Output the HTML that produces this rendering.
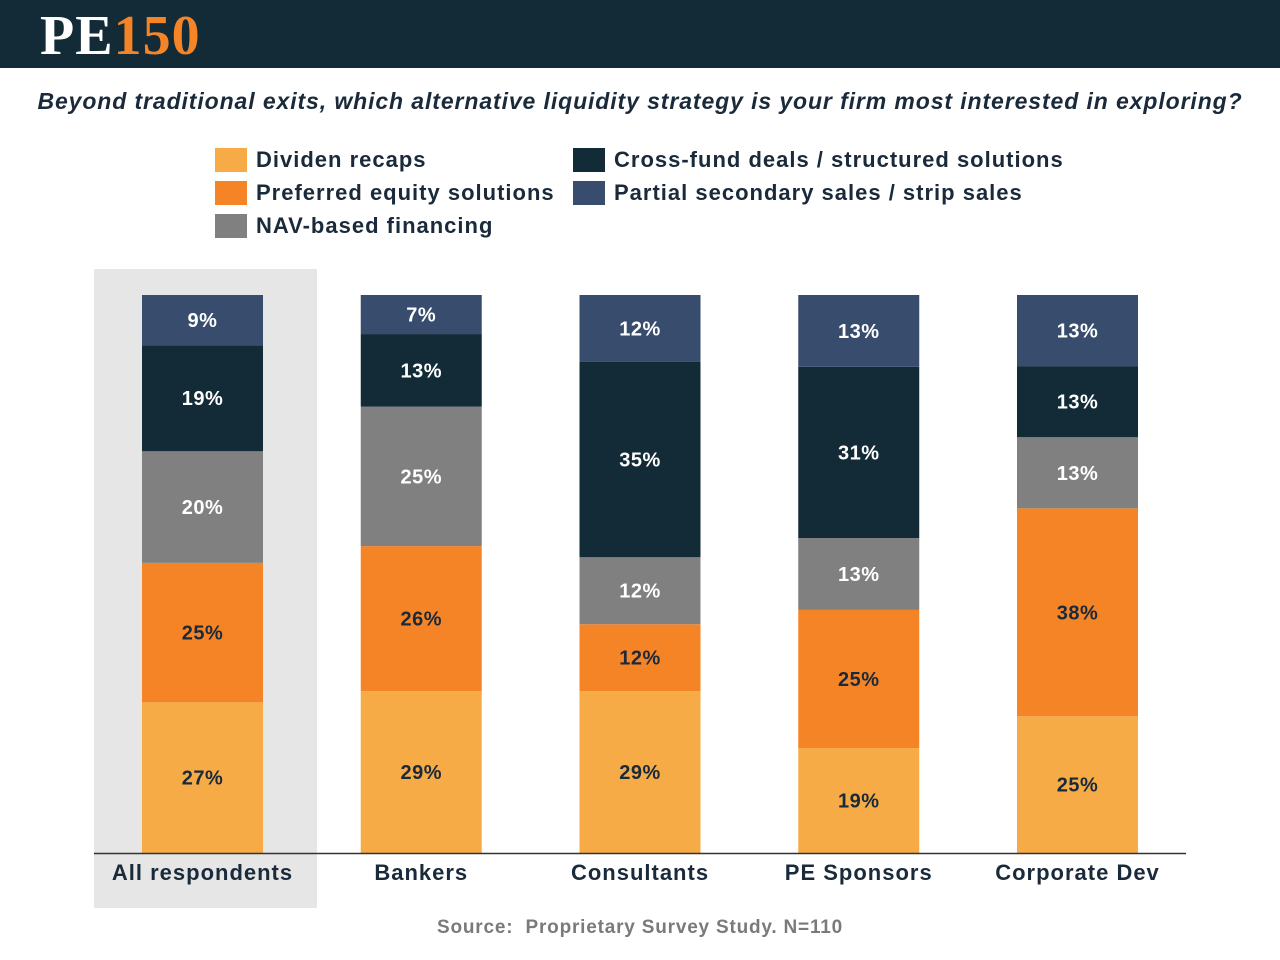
<!DOCTYPE html>
<html><head><meta charset="utf-8"><style>
body{margin:0;width:1280px;height:960px;background:#fff;position:relative;overflow:hidden;font-family:"Liberation Sans","DejaVu Sans",sans-serif}
.hdr{position:absolute;left:0;top:0;width:1280px;height:68px;background:#132a37}
.logo{position:absolute;left:40px;top:4px;font-family:"Liberation Serif",serif;font-weight:bold;font-size:56px;letter-spacing:1px}
.title{position:absolute;left:0;width:1280px;top:88px;text-align:center;font-style:italic;font-weight:bold;font-size:23px;letter-spacing:0.9px;color:#1a2a3a}
.leg{position:absolute;font-weight:bold;font-size:22px;letter-spacing:1px;color:#1a2a3a;display:flex;align-items:center}
.leg span{display:inline-block;width:32px;height:24px;margin-right:9px}
.src{position:absolute;left:0;width:1280px;top:917px;text-align:center;font-weight:bold;font-size:19px;letter-spacing:0.8px;color:#7a7a7a}
</style></head><body>
<div class="hdr"></div>
<div class="logo"><span style="color:#fff">PE</span><span style="color:#f58426">150</span></div>
<div class="title">Beyond traditional exits, which alternative liquidity strategy is your firm most interested in exploring?</div>
<div class="leg" style="left:215px;top:147px"><span style="background:#f6ab47"></span>Dividen recaps</div>
<div class="leg" style="left:215px;top:180px"><span style="background:#f58426"></span>Preferred equity solutions</div>
<div class="leg" style="left:215px;top:213px"><span style="background:#808080"></span>NAV-based financing</div>
<div class="leg" style="left:573px;top:147px"><span style="background:#132a37"></span>Cross-fund deals / structured solutions</div>
<div class="leg" style="left:573px;top:180px"><span style="background:#384c6e"></span>Partial secondary sales / strip sales</div>
<svg id="chart" width="1280" height="960" style="position:absolute;left:0;top:0"></svg>
<div class="src">Source:&nbsp; Proprietary Survey Study. N=110</div>
<script>
const categories=["All respondents","Bankers","Consultants","PE Sponsors","Corporate Dev"];
const dividendRecaps=[27,29,29,19,25];
const preferredEquity=[25,26,12,25,38];
const navFinancing=[20,25,12,13,13];
const crossFund=[19,13,35,31,13];
const partialSecondary=[9,7,12,13,13];
const series=[dividendRecaps,preferredEquity,navFinancing,crossFund,partialSecondary];
const colors=["#f6ab47","#f58426","#808080","#132a37","#384c6e"];
const textColors=["#1a2a3a","#1a2a3a","#fff","#fff","#fff"];
const svg=document.getElementById('chart');
const NS="http://www.w3.org/2000/svg";
const baseY=853,plotH=558,barW=121,x0=142,step=218.75;
function xPos(i){return x0+i*step;}
function mk(t,a){const e=document.createElementNS(NS,t);for(const k in a)e.setAttribute(k,a[k]);svg.appendChild(e);return e;}
const bg=mk('rect',{x:94,y:269,width:223,height:639,fill:'#e6e6e6'});


categories.forEach((c,i)=>{
  const total=series.reduce((s,a)=>s+a[i],0);
  let y=baseY;
  series.forEach((arr,si)=>{
    const h=arr[i]/total*plotH;
    y-=h;
    const r=mk('rect',{x:xPos(i),y:y,width:barW,height:h,fill:colors[si]});
    
    
    const t=mk('text',{x:xPos(i)+barW/2,y:y+h/2+7,'text-anchor':'middle','font-size':20,'font-weight':'bold','letter-spacing':0.5,fill:textColors[si],'font-family':'Liberation Sans, sans-serif'});
    t.textContent=arr[i]+'%';
    
    
  });
  const l=mk('text',{x:xPos(i)+barW/2,y:880,'text-anchor':'middle','font-size':22,'font-weight':'bold','letter-spacing':1,fill:'#1a2a3a','font-family':'Liberation Sans, sans-serif'});
  l.textContent=c;
  
  
});
const ax=mk('line',{x1:94,x2:1186,y1:853.5,y2:853.5,stroke:'#333','stroke-width':1.5});


</script>
</body></html>
